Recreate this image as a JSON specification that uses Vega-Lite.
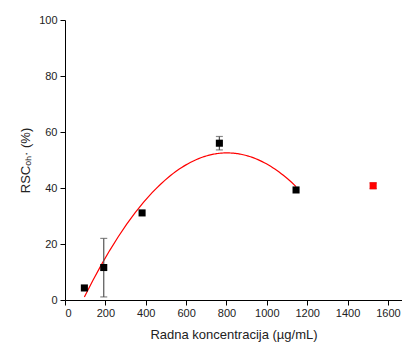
{
  "$schema": "https://vega.github.io/schema/vega-lite/v6.json",
  "width": 337,
  "height": 280,
  "autosize": {"type": "none"},
  "padding": {"left": 65, "top": 20, "right": 0, "bottom": 43},
  "background": "white",
  "config": {
    "view": {"stroke": null},
    "font": "Liberation Sans",
    "axis": {"grid": false, "domainColor": "#000", "tickColor": "#000", "labelColor": "#222", "titleColor": "#222", "labelFontSize": 11, "titleFontSize": 13, "titleFontWeight": "normal", "labelFont": "Liberation Sans", "titleFont": "Liberation Sans"}
  },
  "data": {
    "values": [
      {"x": 96, "y": 4.3, "lo": null, "hi": null, "grp": "a"},
      {"x": 192, "y": 11.6, "lo": 1.1, "hi": 22.0, "grp": "a"},
      {"x": 382, "y": 31.1, "lo": null, "hi": null, "grp": "a"},
      {"x": 765, "y": 56.0, "lo": 53.6, "hi": 58.4, "grp": "a"},
      {"x": 1145, "y": 39.3, "lo": null, "hi": null, "grp": "a"},
      {"x": 1527, "y": 40.8, "lo": 39.8, "hi": 41.8, "grp": "b"}
    ]
  },
  "layer": [
    {
      "transform": [{"filter": "datum.grp == 'a'"}, {"regression": "y", "on": "x", "method": "poly", "order": 2, "extent": [96, 1145]}],
      "mark": {"type": "line", "color": "#ff0000", "strokeWidth": 1.2},
      "encoding": {
        "x": {"field": "x", "type": "quantitative", "scale": {"domain": [0, 1670], "nice": false, "zero": false},
          "axis": {"values": [0, 100, 200, 300, 400, 500, 600, 700, 800, 900, 1000, 1100, 1200, 1300, 1400, 1500, 1600], "labelExpr": "datum.value % 200 == 0 ? format(datum.value, 'd') : ''", "tickSize": {"condition": {"test": "datum.value % 200 == 0", "value": 5}, "value": 3}, "title": "Radna koncentracija (µg/mL)", "labelPadding": 2, "titlePadding": 10, "orient": "bottom"}},
        "y": {"field": "y", "type": "quantitative", "scale": {"domain": [0, 100], "nice": false},
          "axis": {"values": [0, 10, 20, 30, 40, 50, 60, 70, 80, 90, 100], "labelExpr": "datum.value % 20 == 0 ? format(datum.value, 'd') : ''", "tickSize": {"condition": {"test": "datum.value % 20 == 0", "value": 5}, "value": 3}, "title": "RSCₒₕ· (%)", "labelPadding": 3, "titlePadding": 6, "orient": "left"}}
      }
    },
    {
      "transform": [{"filter": "datum.hi != null"}],
      "mark": {"type": "rule", "color": "#555", "strokeWidth": 1.2},
      "encoding": {
        "x": {"field": "x", "type": "quantitative"},
        "y": {"field": "lo", "type": "quantitative"},
        "y2": {"field": "hi"}
      }
    },
    {
      "transform": [{"filter": "datum.hi != null"}],
      "mark": {"type": "tick", "orient": "horizontal", "color": "#555", "size": 7, "thickness": 1.2},
      "encoding": {
        "x": {"field": "x", "type": "quantitative"},
        "y": {"field": "lo", "type": "quantitative"}
      }
    },
    {
      "transform": [{"filter": "datum.hi != null"}],
      "mark": {"type": "tick", "orient": "horizontal", "color": "#555", "size": 7, "thickness": 1.2},
      "encoding": {
        "x": {"field": "x", "type": "quantitative"},
        "y": {"field": "hi", "type": "quantitative"}
      }
    },
    {
      "mark": {"type": "point", "shape": "square", "filled": true, "size": 50, "opacity": 1, "strokeWidth": 0},
      "encoding": {
        "x": {"field": "x", "type": "quantitative"},
        "y": {"field": "y", "type": "quantitative"},
        "color": {"field": "grp", "type": "nominal", "scale": {"domain": ["a", "b"], "range": ["#000000", "#ff0000"]}, "legend": null}
      }
    }
  ]
}
